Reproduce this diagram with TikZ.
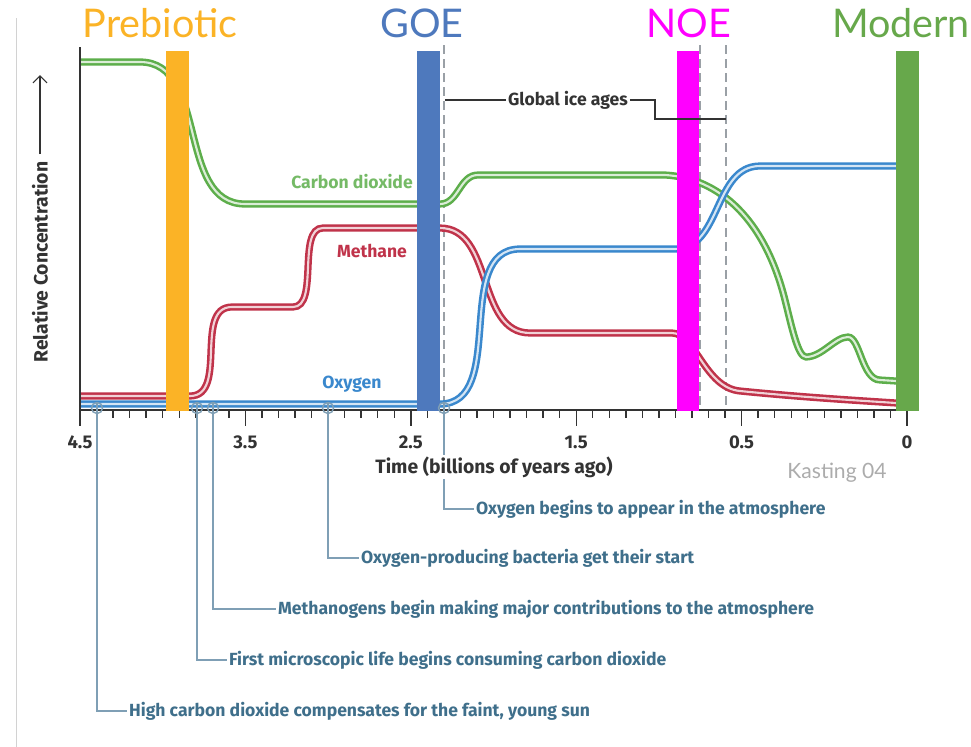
\documentclass[tikz,border=0pt]{standalone}
\usepackage{fontspec}
\setmainfont{Lato}
\newfontfamily\lblfont{Fira Sans}
\usetikzlibrary{arrows.meta}

\definecolor{prebio}{HTML}{FBB326}
\definecolor{goe}{HTML}{4E79BD}
\definecolor{noe}{HTML}{FF00FF}
\definecolor{modern}{HTML}{67A84B}
\definecolor{cogreen}{HTML}{5DAE4B}
\definecolor{chred}{HTML}{C0334A}
\definecolor{oxblue}{HTML}{3A88CD}
\definecolor{annot}{HTML}{3F6F8B}
\definecolor{annotline}{HTML}{7F9FB5}
\definecolor{axisgray}{HTML}{333333}
\definecolor{dashgray}{HTML}{9AA0A6}

\begin{document}
\begin{tikzpicture}[
    x=0.02cm, y=0.02cm,
    curve/.style={line width=1.45pt, double distance=1.2pt},
    era/.style={font=\fontsize{22.5}{22.5}\selectfont, inner sep=0pt, anchor=base},
    cname/.style={font=\lblfont\bfseries\fontsize{10}{10}\selectfont, inner sep=1pt},
    ticklab/.style={font=\lblfont\bfseries\fontsize{10.5}{10.5}\selectfont, text=axisgray, inner sep=0pt, anchor=base},
    axislab/.style={font=\lblfont\bfseries\fontsize{11}{11}\selectfont, text=axisgray, inner sep=1pt},
    note/.style={font=\lblfont\bfseries\fontsize{10}{10}\selectfont, text=annot, inner sep=1pt, anchor=west},
    marker/.style={circle, draw=annotline, line width=0.8pt, inner sep=0pt, minimum size=6.3pt},
    iceline/.style={draw=axisgray, line width=0.8pt},
    guide/.style={dashgray, line width=0.8pt, dash pattern=on 5pt off 3pt}
]
\useasboundingbox (0,0) rectangle (971,-747);
\fill[white] (0,0) rectangle (971,-747);
\draw[gray!35, line width=0.5pt] (16,-18) -- (16,-747);

% ice age guides
\draw[guide] (444,-45) -- (444,-404);
\draw[guide] (700,-45) -- (700,-410);
\draw[guide] (726,-45) -- (726,-410);

% curves
\draw[curve, cogreen, double=cogreen!22!white] (80,-62) -- (140,-62)
    to[out=0,in=180] (245,-204) -- (440,-204)
    to[out=0,in=180] (478,-175) -- (665,-175)
    .. controls (720,-178) and (765,-220) .. (785,-300)
    .. controls (792,-328) and (798,-357) .. (806,-357)
    .. controls (822,-357) and (835,-337) .. (848,-337)
    .. controls (860,-337) and (862,-380) .. (880,-380) -- (896,-381);
\draw[curve, chred, double=chred!22!white] (80,-396) -- (190,-396)
    to[out=0,in=180] (232,-307) -- (293,-307)
    to[out=0,in=180,looseness=0.8] (323,-228) -- (440,-228)
    to[out=0,in=180] (530,-333) -- (672,-333)
    .. controls (695,-333) and (705,-388) .. (740,-391)
    .. controls (800,-397) and (850,-400) .. (896,-403);
\draw[curve, oxblue, double=oxblue!22!white] (80,-404) -- (440,-404)
    to[out=0,in=180] (520,-249) -- (675,-249)
    to[out=0,in=180] (760,-166) -- (896,-166);

\node[cname, text=cogreen!85!white] (co2) at (352,-182) {Carbon dioxide};
\node[cname, text=chred] (ch4) at (372,-251) {Methane};
\node[cname, text=oxblue] (o2) at (352,-384) {Oxygen};

% axes and ticks
\draw[axisgray, line width=0.8pt] (80,-47) -- (80,-410) -- (910,-410);
\foreach \k in {0,...,50}
    \draw[axisgray, line width=0.8pt] ({80+16.54*\k},-410) -- ++(0,-8);
\foreach \v/\k in {4.5/0, 3.5/10, 2.5/20, 1.5/30, 0.5/40, 0/50} {
    \draw[axisgray, line width=0.8pt] ({80+16.54*\k},-410) -- ++(0,-16);
    \node[ticklab] (tick\k) at ({80+16.54*\k},-448) {\v};
}

% era bars
\fill[prebio] (166,-51) rectangle (189,-411);
\fill[goe] (417,-51) rectangle (440,-411);
\fill[noe] (677,-51) rectangle (699,-411);
\fill[modern] (896,-51) rectangle (919,-411);
\node[era, text=prebio] (prebiotic) at (160,-37) {Prebiotic};
\node[era, text=goe] (goelab) at (422,-37) {GOE};
\node[era, text=noe] (noelab) at (689,-37) {NOE};
\node[era, text=modern] (modernlab) at (901,-37) {Modern};

% global ice ages
\node[cname, text=axisgray] (ice) at (568,-100) {Global ice ages};
\coordinate (iceleft) at (445,-100);
\coordinate (iceright) at (726,-119);
\draw[iceline] (ice.west) -- (iceleft);
\draw[iceline] (ice.east) -- ++(25,0) |- (iceright);

% events
\node[marker] (m1) at (444,-408) {};
\node[marker] (m2) at (328,-408) {};
\node[marker] (m3) at (213,-408) {};
\node[marker] (m4) at (197,-408) {};
\node[marker] (m5) at (97,-408) {};
\node[note] (e1) at (474,-509) {Oxygen begins to appear in the atmosphere};
\node[note] (e2) at (359,-558) {Oxygen-producing bacteria get their start};
\node[note] (e3) at (276,-609) {Methanogens begin making major contributions to the atmosphere};
\node[note] (e4) at (227,-660) {First microscopic life begins consuming carbon dioxide};
\node[note] (e5) at (127,-711) {High carbon dioxide compensates for the faint, young sun};
\foreach \i in {1,...,5}
    \draw[annotline, line width=0.8pt] (m\i.north) |- (e\i.west);

% axis titles
\node[axislab, fill=white, anchor=base] (xlab) at (494,-473) {Time (billions of years ago)};
\node[axislab, rotate=90] (ylab) at (40,-262) {Relative Concentration};
\coordinate (ytop) at (40,-75);
\draw[axisgray, line width=0.7pt, -{Straight Barb[length=4pt]}, shorten <=3pt] (ylab.east) -- (ytop);
\node[font=\fontsize{12}{12}\selectfont, text=gray!65, anchor=base] (src) at (837,-478) {Kasting 04};
\end{tikzpicture}
\end{document}
